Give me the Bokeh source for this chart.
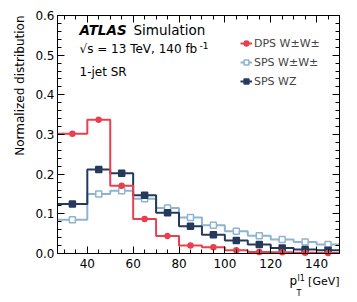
import math
from bokeh.plotting import figure
from bokeh.models import (Range1d, LinearAxis, SingleIntervalTicker, Label, Legend, LegendItem,
                          CustomJSTickFormatter, PrintfTickFormatter)
from bokeh.embed import file_html
from bokeh.resources import INLINE

# ---- data -------------------------------------------------------------
bin_edges = [27, 40, 50, 60, 70, 80, 90, 100, 110, 120, 130, 140, 150]
dps_ww = [0.302, 0.337, 0.171, 0.087, 0.044, 0.020, 0.016, 0.008, 0.004, 0.003, 0.002, 0.001]
sps_ww = [0.085, 0.150, 0.158, 0.138, 0.115, 0.091, 0.071, 0.056, 0.045, 0.035, 0.029, 0.023]
sps_wz = [0.125, 0.212, 0.202, 0.147, 0.103, 0.069, 0.047, 0.033, 0.023, 0.014, 0.010, 0.008]
labels = ["DPS W\u00b1W\u00b1", "SPS W\u00b1W\u00b1", "SPS WZ"]
x_lo, x_hi = 27, 150
y_lo, y_hi = 0.0, 0.6

FONT = "DejaVu Sans"
RED = "#e8404f"
LIGHT = "#8fb4d0"
DARK = "#243a5c"

# canvas geometry (pixels): plot box left/right/top/bottom
W, H = 357, 302
BL, BR, BT, BB = 57, 339, 15, 253
xs = (BR - BL) / (x_hi - x_lo)
ys = (BB - BT) / (y_hi - y_lo)
full_x = Range1d(x_lo - BL / xs, x_hi + (W - BR) / xs)
full_y = Range1d(y_lo - (H - BB) / ys, y_hi + BT / ys)

centers = [(a + b) / 2 for a, b in zip(bin_edges[:-1], bin_edges[1:])]

p = figure(width=W, height=H, output_backend="svg", toolbar_location=None,
           x_range=full_x, y_range=full_y,
           x_axis_location=None, y_axis_location=None,
           min_border_left=0, min_border_right=0, min_border_top=0, min_border_bottom=0)
p.xgrid.visible = False
p.ygrid.visible = False
p.outline_line_color = None
p.background_fill_color = "white"
p.border_fill_color = "white"

def make_axis(kind, loc, bounds, labels_on):
    if kind == "x":
        tk = SingleIntervalTicker(interval=20, num_minor_ticks=4)
    else:
        tk = SingleIntervalTicker(interval=0.1, num_minor_ticks=5)
    ax = LinearAxis(ticker=tk, fixed_location=loc, bounds=bounds)
    ax.axis_line_color = "black"
    ax.axis_line_width = 1
    ax.major_tick_in = 7
    ax.major_tick_out = 0
    ax.minor_tick_in = 4
    ax.minor_tick_out = 0
    ax.major_tick_line_color = "black"
    ax.minor_tick_line_color = "black"
    ax.major_label_text_font = FONT
    ax.major_label_text_color = "black"
    if labels_on:
        ax.major_label_text_font_size = "12px"
        if kind == "y":
            ax.formatter = PrintfTickFormatter(format="%.1f")
            ax.major_label_standoff = 3
        else:
            ax.major_label_standoff = 5
    else:
        ax.major_label_text_font_size = "0px"
        ax.major_label_standoff = 0
        ax.formatter = CustomJSTickFormatter(code="return ''")
    return ax

p.add_layout(make_axis("x", y_lo, (x_lo, x_hi), True), "below")
p.add_layout(make_axis("x", y_hi, (x_lo, x_hi), False), "above")
p.add_layout(make_axis("y", x_lo, (y_lo, y_hi + 1e-4), True), "left")
p.add_layout(make_axis("y", x_hi, (y_lo, y_hi + 1e-4), False), "right")

def hist(vals, color, marker, fill, size):
    yv = list(vals) + [vals[-1]]
    l = p.step(x=bin_edges, y=yv, mode="after", line_color=color, line_width=2)
    m = p.scatter(x=centers, y=vals, marker=marker, size=size, line_color=color,
                  fill_color=fill, line_width=1.5)
    return l, m

r_ww = hist(sps_ww, LIGHT, "square", "white", 6)
r_wz = hist(sps_wz, DARK, "square", DARK, 6)
r_dps = hist(dps_ww, RED, "circle", RED, 5)

legend = Legend(items=[LegendItem(label=labels[0], renderers=list(r_dps)),
                       LegendItem(label=labels[1], renderers=list(r_ww)),
                       LegendItem(label=labels[2], renderers=list(r_wz))],
                location=(240, 214), orientation="vertical",
                glyph_width=12, glyph_height=14, label_height=14, label_standoff=2,
                spacing=5, padding=0, margin=0,
                label_text_font=FONT, label_text_font_size="11px",
                border_line_alpha=0, background_fill_alpha=0)
p.add_layout(legend)

def lab(text, xo, yo, size="12px", style="normal", **kw):
    p.add_layout(Label(x=x_lo, y=y_hi, x_offset=xo, y_offset=yo, text=text,
                       text_font=FONT, text_font_size=size, text_font_style=style,
                       text_color="black", **kw))

lab("ATLAS", 22, -22, "13.5px", "bold italic")
lab("Simulation", 76, -22, "13.5px")
lab("\u221as = 13 TeV, 140 fb", 22, -40, "12px")
lab("-1", 142, -33, "9px")
lab("1-jet SR", 22, -63, "12px")

# y-axis title
p.add_layout(Label(x=x_lo, y=y_hi, x_offset=-38, y_offset=0, text="Normalized distribution",
                   angle=math.pi / 2, text_align="right", text_baseline="middle",
                   text_font=FONT, text_font_size="12px", text_color="black"))

# x-axis title  p_T^{l1} [GeV]
def xl(text, xo, yo, size, **kw):
    p.add_layout(Label(x=x_hi, y=y_lo, x_offset=xo, y_offset=yo, text=text,
                       text_font=FONT, text_font_size=size, text_color="black", **kw))

xl("[GeV]", 0, -34, "11px", text_align="right")
xl("p", -50, -34, "12px")
xl("l1", -42, -29, "8px")
xl("T", -43, -44, "8px")

open("out.html", "w").write(file_html(p, INLINE))
